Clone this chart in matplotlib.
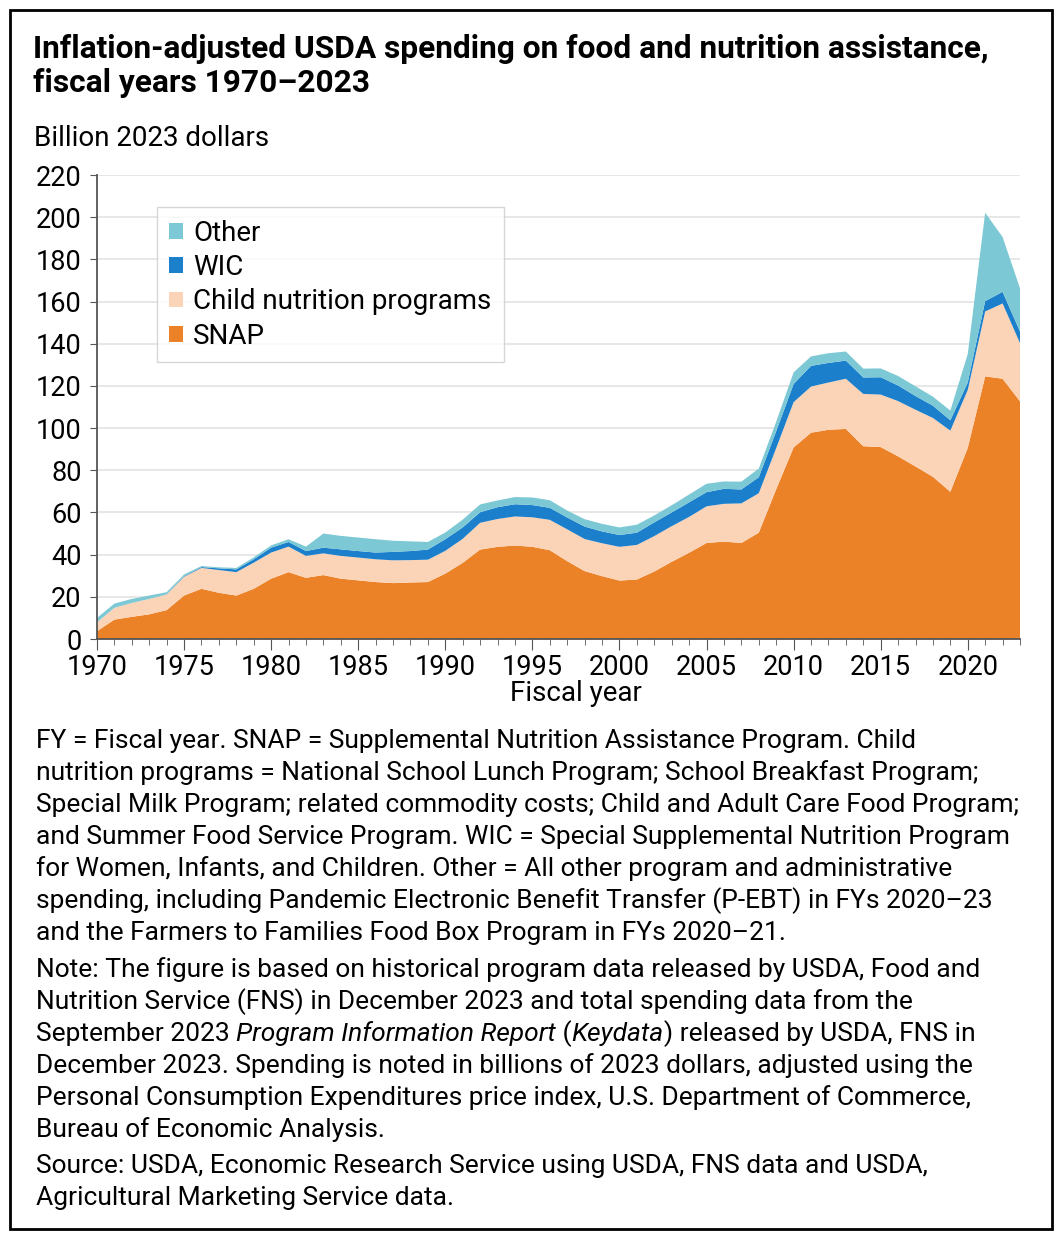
import matplotlib
matplotlib.use('Agg')
import matplotlib.pyplot as plt
from matplotlib.patches import Rectangle, Patch
from matplotlib.ticker import MultipleLocator
import numpy as np

plt.rcParams['font.family'] = ['Roboto', 'DejaVu Sans']

years = np.arange(1970, 2024)

snap = [3.7, 9.2, 10.5, 11.7, 13.7, 20.6, 23.8, 21.9, 20.6, 23.8,
        28.6, 31.7, 29.0, 30.3, 28.6, 27.8, 27.0, 26.5, 26.8, 27.0,
        31.0, 36.1, 42.4, 43.7, 44.3, 43.7, 42.1, 36.9, 32.2, 29.8,
        27.7, 28.2, 32.0, 36.6, 40.9, 45.5, 46.2, 45.5, 50.4, 71.0,
        90.8, 97.8, 99.2, 99.6, 91.4, 91.0, 86.6, 81.8, 76.9, 69.8,
        90.6, 124.5, 123.4, 112.7]
child = [4.2, 5.6, 6.6, 7.3, 7.4, 8.9, 9.9, 10.8, 11.1, 12.4,
         12.4, 12.1, 10.4, 10.3, 10.8, 10.8, 10.8, 10.8, 10.6, 10.6,
         10.8, 11.4, 12.7, 13.2, 13.8, 14.0, 14.4, 15.1, 15.2, 15.6,
         16.0, 16.4, 16.8, 16.9, 17.0, 17.4, 17.9, 18.8, 18.7, 19.5,
         21.5, 21.9, 22.4, 23.8, 24.8, 24.9, 26.2, 26.9, 27.9, 29.0,
         27.5, 30.8, 35.7, 27.6]
wic = [0.0, 0.0, 0.0, 0.0, 0.1, 0.3, 0.4, 0.8, 1.3, 1.6,
       2.3, 2.2, 2.3, 2.7, 3.1, 3.1, 3.2, 4.0, 4.3, 4.8,
       5.5, 5.4, 5.0, 5.6, 5.8, 5.8, 5.7, 5.6, 5.9, 5.6,
       5.6, 5.8, 6.5, 6.5, 6.9, 6.7, 7.1, 6.6, 7.6, 8.0,
       8.6, 9.8, 9.3, 8.6, 7.8, 8.2, 7.4, 6.5, 5.8, 4.9,
       3.5, 4.9, 5.5, 5.5]
other = [2.1, 2.0, 1.9, 1.6, 1.0, 0.8, 0.5, 0.5, 0.7, 0.9,
         1.1, 1.3, 2.1, 6.7, 6.4, 6.4, 6.3, 5.3, 4.6, 3.6,
         3.2, 3.7, 3.7, 3.2, 3.4, 3.6, 3.6, 3.3, 3.5, 3.6,
         3.6, 3.8, 3.3, 3.4, 3.7, 4.0, 3.5, 3.7, 4.1, 4.5,
         5.5, 4.5, 4.6, 4.3, 4.2, 4.2, 4.5, 4.6, 4.3, 4.6,
         13.5, 41.9, 26.0, 20.5]

labels = ['SNAP', 'Child nutrition programs', 'WIC', 'Other']
colors = ['#EC8228', '#FBD3B6', '#1B7FCB', '#7CC8D4']

title = ['Inflation-adjusted USDA spending on food and nutrition assistance,',
         'fiscal years 1970\u20132023']

notes1 = [
    'FY = Fiscal year. SNAP = Supplemental Nutrition Assistance Program. Child',
    'nutrition programs = National School Lunch Program; School Breakfast Program;',
    'Special Milk Program; related commodity costs; Child and Adult Care Food Program;',
    'and Summer Food Service Program. WIC = Special Supplemental Nutrition Program',
    'for Women, Infants, and Children. Other = All other program and administrative',
    'spending, including Pandemic Electronic Benefit Transfer (P-EBT) in FYs 2020\u201323',
    'and the Farmers to Families Food Box Program in FYs 2020\u201321.',
]
notes2 = [
    [('Note: The figure is based on historical program data released by USDA, Food and', 'normal')],
    [('Nutrition Service (FNS) in December 2023 and total spending data from the', 'normal')],
    [('September 2023 ', 'normal'), ('Program Information Report', 'italic'),
     (' (', 'normal'), ('Keydata', 'italic'), (') released by USDA, FNS in', 'normal')],
    [('December 2023. Spending is noted in billions of 2023 dollars, adjusted using the', 'normal')],
    [('Personal Consumption Expenditures price index, U.S. Department of Commerce,', 'normal')],
    [('Bureau of Economic Analysis.', 'normal')],
]
source = ['Source: USDA, Economic Research Service using USDA, FNS data and USDA,',
          'Agricultural Marketing Service data.']

W, H = 1064, 1244
fig = plt.figure(figsize=(W / 100, H / 100), dpi=100)
fig.patch.set_facecolor('white')

def fx(px):
    return px / W

def fy(py):
    return 1 - py / H

# frame
fig.patches.append(Rectangle((fx(10), fy(1229)), fx(1042), (1219) / H,
                             transform=fig.transFigure, fill=False,
                             edgecolor='black', linewidth=2))

ax = fig.add_axes([fx(97), fy(639), fx(1020 - 97), (639 - 175) / H])
ax.stackplot(years, snap, child, wic, other, colors=colors, linewidth=0)
ax.set_xlim(1970, 2023)
ax.set_ylim(0, 220)
ax.yaxis.set_major_locator(MultipleLocator(20))
ax.xaxis.set_major_locator(MultipleLocator(5))
ax.xaxis.set_minor_locator(MultipleLocator(1))
ax.grid(axis='y', color='#E3E3E3', linewidth=1.2)
ax.set_axisbelow(True)
for s in ['top', 'right']:
    ax.spines[s].set_visible(False)
for s in ['left', 'bottom']:
    ax.spines[s].set_color('#555555')
    ax.spines[s].set_linewidth(1.3)
ax.tick_params(axis='y', length=5, color='#555555', labelsize=19.5, pad=6)
ax.tick_params(axis='x', which='major', length=8, color='#555555', labelsize=19.5, pad=3)
ax.tick_params(axis='x', which='minor', length=4, color='#555555')
ax.set_xlabel('Fiscal year', fontsize=20)
ax.xaxis.set_label_coords((576 - 97) / 923, -(680 - 639) / 464)

handles = [Patch(facecolor=c, label=l) for c, l in zip(colors, labels)][::-1]
leg = ax.legend(handles=handles, loc='upper left', bbox_to_anchor=(0.065, 0.93),
                fontsize=20, frameon=True, fancybox=False, edgecolor='#CCCCCC',
                handlelength=0.5, handleheight=0.5, handletextpad=0.35,
                labelspacing=0.26, borderpad=0.45, borderaxespad=0)
leg.get_frame().set_linewidth(1)

fig.text(fx(33), fy(49), title[0], fontsize=22.8, fontweight='bold', va='center', ha='left')
fig.text(fx(33), fy(83), title[1], fontsize=22.8, fontweight='bold', va='center', ha='left')
fig.text(fx(34), fy(138), 'Billion 2023 dollars', fontsize=20, va='center', ha='left')

fs = 19.0
y = 741
for line in notes1:
    fig.text(fx(36), fy(y), line, fontsize=fs, va='center', ha='left')
    y += 32

fig.canvas.draw()
renderer = fig.canvas.get_renderer()
y = 970
for parts in notes2:
    x = 36
    for txt, style in parts:
        t = fig.text(fx(x), fy(y), txt, fontsize=fs, style=style, va='center', ha='left')
        bb = t.get_window_extent(renderer=renderer)
        x += bb.width
    y += 32
y = 1166
for line in source:
    fig.text(fx(36), fy(y), line, fontsize=fs, va='center', ha='left')
    y += 32

fig.savefig('out.png', dpi=100)
